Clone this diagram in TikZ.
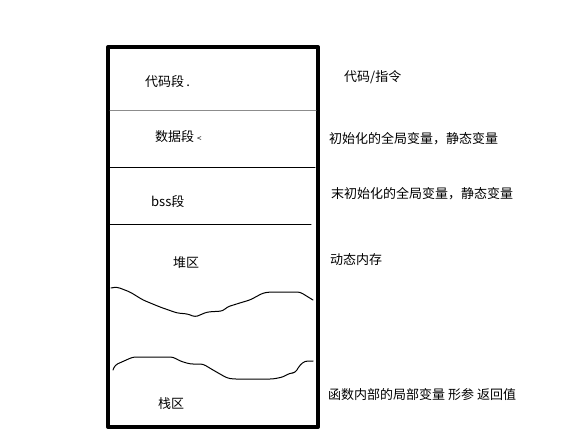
\documentclass[tikz,border=0pt]{standalone}
\usepackage{fontspec}
\newfontfamily\cjk{Noto Sans CJK SC}
\usetikzlibrary{positioning}
\tikzset{
  memory/.style={
	x=1pt, y=-1pt, % pixel units, y pointing down
	line join=round, line cap=round,
  },
  seg/.style={font=\cjk\fontsize{13}{15}\selectfont, inner sep=0pt, anchor=west}, % labels inside the box
  desc/.style={font=\cjk\fontsize{13}{15}\selectfont, inner sep=0pt, anchor=west}, % notes on the right
  frame/.style={line width=4pt},
  divider/.style={line width=1pt},
  wave/.style={line width=1pt, rounded corners=3pt},
}
\begin{document}
\begin{tikzpicture}[memory]
	  \useasboundingbox (0,0) rectangle (582,436);
	  % the memory block
	  \draw[frame] (108,47) rectangle (318,427);
	  \draw[divider, black!45] (110,111) -- (316,111);
	  \draw[divider] (110,168) -- (315,168);
	  \draw[divider] (110,224) -- (311,224);
	  % heap top and stack top
	  \draw[wave] (111,288) -- (117,287) -- (130,292) -- (143,300) -- (160,307) -- (177,313)
		  -- (188,314) -- (195,317) -- (200,315) -- (207,312) -- (223,311) -- (227,307)
		  -- (243,302) -- (250,300) -- (263,293) -- (270,292) -- (300,292) -- (313,300);
	  \draw[wave] (113,370) -- (115,365) -- (133,357) -- (173,357) -- (180,361) -- (190,364)
		  -- (203,364) -- (213,370) -- (227,378) -- (233,379) -- (273,379) -- (283,377)
		  -- (290,373) -- (295,373) -- (300,365) -- (305,361) -- (313,361);
	  % segments
	  \node[seg] (code) at (145,82) {代码段\,.};
	  \node[seg] (data) at (155,137) {数据段 {\fontsize{8}{9}\selectfont<}};
	  \node[seg] (bss) at (151,202) {bss段};
	  \node[seg] (heap) at (173,263) {堆区};
	  \node[seg] (stack) at (158,404) {栈区};
	  % what each segment holds
	  \node[desc] (codeNote) at (344,77) {代码/指令};
	  \node[desc] (dataNote) at (329,139) {初始化的全局变量，静态变量};
	  \node[desc] (bssNote) at (331,194) {末初始化的全局变量，静态变量};
	  \node[desc] (heapNote) at (330,260) {动态内存};
	  \node[desc] (stackNote) at (328,395) {函数内部的局部变量 形参 返回值};
	  \end{tikzpicture}
\end{document}
